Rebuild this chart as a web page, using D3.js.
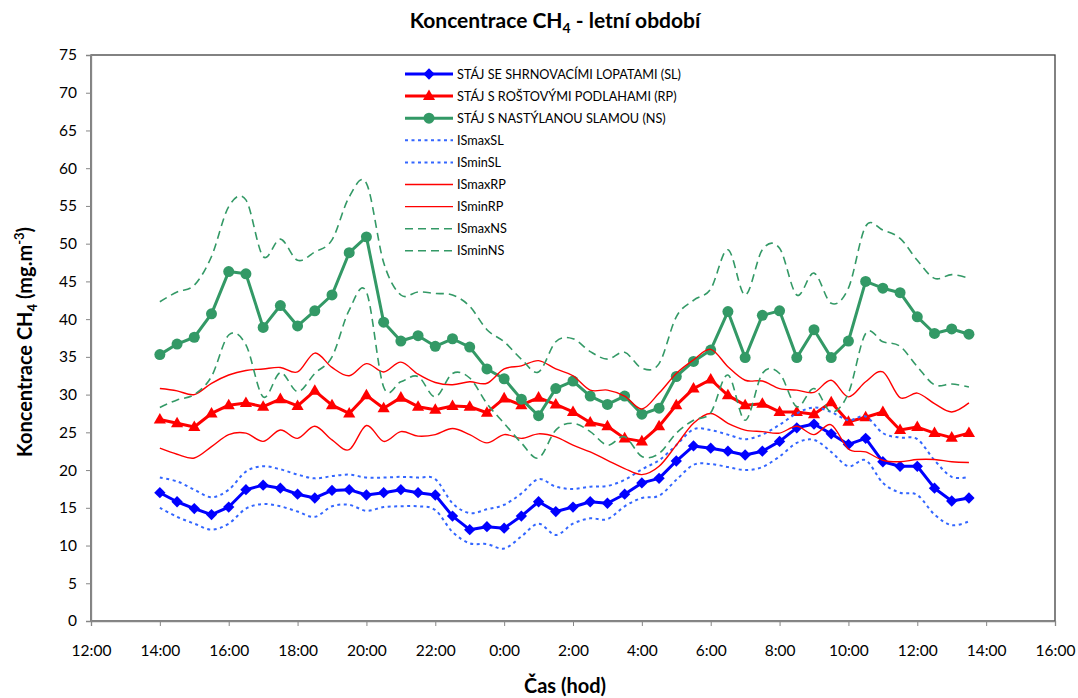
<!DOCTYPE html>
<html>
<head>
<meta charset="utf-8">
<script src="https://cdn.jsdelivr.net/npm/d3@7"></script>
<style>
    body { margin: 0; background: #fff; }
    #chart { width: 1078px; height: 698px; }
    text { font-family: Lato, 'Open Sans', sans-serif; fill: #000; }
</style>
</head>
<body>
<div id="chart"></div>
<script>
//Datos (cada 30 min, 14:00 -> 13:30 del día siguiente)
const times = ['14:00','14:30','15:00','15:30','16:00','16:30','17:00','17:30','18:00','18:30','19:00','19:30',
    '20:00','20:30','21:00','21:30','22:00','22:30','23:00','23:30','0:00','0:30','1:00','1:30',
    '2:00','2:30','3:00','3:30','4:00','4:30','5:00','5:30','6:00','6:30','7:00','7:30',
    '8:00','8:30','9:00','9:30','10:00','10:30','11:00','11:30','12:00','12:30','13:00','13:30'];

const sl = [17.0,15.8,14.9,14.1,15.1,17.4,18.0,17.6,16.8,16.3,17.3,17.4,
    16.7,17.0,17.4,17.0,16.7,13.9,12.1,12.5,12.3,13.9,15.8,14.5,
    15.1,15.8,15.6,16.8,18.3,18.9,21.2,23.2,22.9,22.5,22.0,22.5,
    23.8,25.6,26.1,24.8,23.4,24.2,21.1,20.5,20.5,17.6,15.9,16.3];
const rp = [26.7,26.2,25.7,27.5,28.6,28.9,28.4,29.4,28.5,30.5,28.6,27.5,
    29.9,28.2,29.6,28.4,28.0,28.5,28.4,27.6,29.5,28.6,29.6,28.7,
    27.7,26.3,25.8,24.2,23.8,25.8,28.6,30.8,32.0,29.9,28.6,28.8,
    27.7,27.7,27.4,29.0,26.4,27.0,27.7,25.3,25.7,24.9,24.3,24.9];
const ns = [35.3,36.7,37.6,40.7,46.3,46.0,38.9,41.8,39.1,41.1,43.2,48.8,
    50.9,39.6,37.1,37.8,36.4,37.4,36.3,33.4,32.1,29.4,27.2,30.8,
    31.8,29.8,28.7,29.8,27.4,28.2,32.4,34.4,35.9,41.0,34.9,40.5,
    41.1,34.9,38.6,34.9,37.1,45.0,44.1,43.5,40.3,38.1,38.7,38.0];

const isMaxSL = [19.0,18.5,17.4,16.4,17.4,19.8,20.5,20.1,19.4,18.9,19.2,19.4,
    19.0,19.0,19.1,19.0,18.8,15.6,14.3,14.8,15.4,16.9,18.8,17.8,
    17.5,17.8,17.9,18.7,20.1,21.3,23.3,25.4,25.3,24.7,24.1,24.7,
    26.0,27.5,28.3,27.7,26.6,27.1,24.9,24.3,24.1,21.3,19.1,19.1];
const isMinSL = [15.0,13.8,12.9,12.1,12.9,14.9,15.5,15.2,14.5,13.8,15.2,15.4,
    14.6,15.1,15.2,15.2,14.7,11.8,10.3,10.2,9.6,11.2,12.9,11.4,
    12.9,13.6,13.5,15.2,16.3,16.6,18.7,20.7,20.8,20.4,20.0,20.4,
    21.8,23.6,24.0,22.4,20.5,21.3,18.3,17.0,16.7,14.1,12.7,13.2];
const isMaxRP = [30.8,30.5,30.0,31.5,32.6,33.2,33.4,33.6,33.0,35.5,33.6,32.5,
    34.1,33.0,34.3,32.7,31.6,31.3,31.7,31.5,33.4,33.8,34.5,33.4,
    32.5,30.6,30.6,29.8,28.1,30.2,32.8,34.6,36.0,33.7,31.9,31.8,
    30.8,30.6,30.3,31.9,29.7,31.7,33.0,29.6,30.2,28.8,27.7,28.9];
const isMinRP = [22.9,22.1,21.6,23.1,24.7,24.9,23.8,25.3,24.2,25.8,24.0,22.7,
    25.9,23.8,25.1,24.5,24.7,25.5,24.7,23.6,24.7,24.2,24.8,24.4,
    23.3,22.4,21.3,20.2,19.4,20.5,23.3,26.2,27.5,26.2,25.3,25.1,
    24.9,25.8,24.7,26.0,22.8,22.4,21.3,21.1,21.4,21.4,21.1,21.0];
const isMaxNS = [42.3,43.6,44.5,48.3,54.9,55.8,48.3,50.6,47.8,48.9,50.5,56.2,
    58.0,47.5,43.2,43.6,43.4,43.2,41.7,38.6,37.0,34.7,33.0,37.0,
    37.4,35.7,34.7,35.6,33.5,34.1,40.3,42.5,44.0,49.2,43.2,49.2,
    49.4,43.2,46.1,42.1,44.1,52.3,51.8,50.7,47.8,45.4,45.9,45.4];
const isMinNS = [28.3,29.3,30.0,32.4,37.9,36.6,29.7,32.9,30.4,32.8,35.0,41.2,
    43.6,31.0,31.7,32.4,29.7,32.8,32.2,28.8,26.2,23.6,21.6,25.3,
    26.2,25.1,23.3,24.4,21.8,22.2,24.9,26.6,27.6,32.6,26.6,32.8,
    32.8,28.4,30.8,27.7,30.2,38.1,37.0,36.4,33.7,31.3,31.4,31.0];

const xTickLabels = ['12:00','14:00','16:00','18:00','20:00','22:00','0:00','2:00','4:00','6:00','8:00','10:00','12:00','14:00','16:00'];
const yTicks = [0,5,10,15,20,25,30,35,40,45,50,55,60,65,70,75];

//Series (orden de la leyenda)
const series = [
    { name: 'STÁJ SE SHRNOVACÍMI LOPATAMI (SL)', values: sl, color: '#0000FF', width: 3, marker: 'diamond' },
    { name: 'STÁJ S ROŠTOVÝMI PODLAHAMI (RP)', values: rp, color: '#FF0000', width: 3, marker: 'triangle' },
    { name: 'STÁJ S NASTÝLANOU SLAMOU (NS)', values: ns, color: '#339966', width: 3, marker: 'circle' },
    { name: 'ISmaxSL', values: isMaxSL, color: '#3366FF', width: 2, dash: '3,3.5', smooth: true },
    { name: 'ISminSL', values: isMinSL, color: '#3366FF', width: 2, dash: '3,3.5', smooth: true },
    { name: 'ISmaxRP', values: isMaxRP, color: '#FF0000', width: 1.4, smooth: true },
    { name: 'ISminRP', values: isMinRP, color: '#FF0000', width: 1.4, smooth: true },
    { name: 'ISmaxNS', values: isMaxNS, color: '#339966', width: 1.6, dash: '8,5', smooth: true },
    { name: 'ISminNS', values: isMinNS, color: '#339966', width: 1.6, dash: '8,5', smooth: true }
];

//Horas desde las 0:00 del primer día
let hours = [];
let dayOffset = 0;
times.forEach(function(t, i) {
    let p = t.split(':');
    let h = +p[0] + (+p[1]) / 60;
    if (i > 0 && h + dayOffset < hours[i - 1]) { dayOffset += 24; }
    hours.push(h + dayOffset);
});

let margin = {top: 55, right: 23, bottom: 77, left: 91},
    width = 1078 - margin.left - margin.right,
    height = 698 - margin.top - margin.bottom;

let svg = d3.select('#chart')
    .append('svg')
    .attr('width', 1078)
    .attr('height', 698);

let chart = svg.append('g')
    .attr('transform', 'translate(' + margin.left + ',' + margin.top + ')');

//Eje X
let x = d3.scaleLinear()
    .domain([12, 40])
    .range([0, width]);

let xAxis = d3.axisBottom(x)
    .tickValues(d3.range(12, 41, 2))
    .tickSize(5)
    .tickPadding(19)
    .tickFormat(function(d, i) { return xTickLabels[i]; });

//Eje Y
let y = d3.scaleLinear()
    .domain([0, 75])
    .range([height, 0]);

let yAxis = d3.axisLeft(y)
    .tickValues(yTicks)
    .tickSize(5)
    .tickPadding(9);

//Marco del área de trazado
chart.append('rect')
    .attr('x', 0)
    .attr('y', 0)
    .attr('width', width)
    .attr('height', height)
    .attr('fill', 'none')
    .attr('stroke', '#404040')
    .attr('stroke-width', 1.3);

let gx = chart.append('g')
    .attr('transform', 'translate(0,' + height + ')')
    .call(xAxis);

let gy = chart.append('g')
    .call(yAxis);

[gx, gy].forEach(function(g) {
    g.select('.domain').attr('stroke', '#868686').attr('stroke-width', 1.3);
    g.selectAll('.tick line').attr('stroke', '#868686');
    g.selectAll('.tick text').style('font-size', '15.5px').attr('fill', '#000');
});

//Líneas
let lineStraight = d3.line()
    .x(function(d, i) { return x(hours[i]); })
    .y(function(d) { return y(d); });

let lineSmooth = d3.line()
    .x(function(d, i) { return x(hours[i]); })
    .y(function(d) { return y(d); })
    .curve(d3.curveCardinal.tension(0));

function markerPath(type) {
    if (type == 'diamond') { return d3.symbol(d3.symbolSquare, 64)(); }
    if (type == 'triangle') { return d3.symbol(d3.symbolTriangle, 64)(); }
    return d3.symbol(d3.symbolCircle, 95)();
}

function markerTransform(type, px, py) {
    if (type == 'diamond') { return 'translate(' + px + ',' + py + ') rotate(45)'; }
    if (type == 'triangle') { return 'translate(' + px + ',' + (py + 0.5) + ')'; }
    return 'translate(' + px + ',' + py + ')';
}

series.forEach(function(s) {
    let g = chart.append('g');

    g.append('path')
        .datum(s.values)
        .attr('d', s.smooth ? lineSmooth : lineStraight)
        .attr('fill', 'none')
        .attr('stroke', s.color)
        .attr('stroke-width', s.width)
        .attr('stroke-dasharray', s.dash || null)
        .attr('stroke-linejoin', 'round');

    if (s.marker) {
        g.selectAll('.marker')
            .data(s.values)
            .enter()
            .append('path')
            .attr('class', 'marker')
            .attr('d', markerPath(s.marker))
            .attr('transform', function(d, i) { return markerTransform(s.marker, x(hours[i]), y(d)); })
            .attr('fill', s.color);
    }
});

//Leyenda
let legend = svg.append('g')
    .attr('transform', 'translate(405,74)');

let legendItems = legend.selectAll('.item')
    .data(series)
    .enter()
    .append('g')
    .attr('class', 'item')
    .attr('transform', function(d, i) { return 'translate(0,' + (i * 22.1) + ')'; });

legendItems.append('line')
    .attr('x1', 0)
    .attr('x2', 48)
    .attr('y1', 0)
    .attr('y2', 0)
    .attr('stroke', function(d) { return d.color; })
    .attr('stroke-width', function(d) { return d.width; })
    .attr('stroke-dasharray', function(d) { return d.dash || null; });

legendItems.filter(function(d) { return d.marker; })
    .append('path')
    .attr('d', function(d) { return markerPath(d.marker); })
    .attr('transform', function(d) { return markerTransform(d.marker, 24, 0); })
    .attr('fill', function(d) { return d.color; });

legendItems.append('text')
    .attr('x', 52)
    .attr('y', 4.5)
    .style('font-size', '12.7px')
    .text(function(d) { return d.name; });

//Títulos
let title = svg.append('text')
    .attr('x', 555)
    .attr('y', 28)
    .attr('text-anchor', 'middle')
    .style('font-size', '21px')
    .style('font-weight', 'bold');
title.append('tspan').text('Koncentrace CH');
title.append('tspan').attr('dy', 5).style('font-size', '14px').text('4');
title.append('tspan').attr('dy', -5).text(' - letní období');

svg.append('text')
    .attr('x', 565)
    .attr('y', 693)
    .attr('text-anchor', 'middle')
    .style('font-size', '20px')
    .style('font-weight', 'bold')
    .text('Čas (hod)');

let yTitle = svg.append('text')
    .attr('transform', 'translate(32,342) rotate(-90)')
    .attr('text-anchor', 'middle')
    .style('font-size', '20px')
    .style('font-weight', 'bold');
yTitle.append('tspan').text('Koncentrace CH');
yTitle.append('tspan').attr('dy', 5).style('font-size', '13px').text('4');
yTitle.append('tspan').attr('dy', -5).text(' (mg.m');
yTitle.append('tspan').attr('dy', -8).style('font-size', '13px').text('-3');
yTitle.append('tspan').attr('dy', 8).text(')');
</script>
</body>
</html>
